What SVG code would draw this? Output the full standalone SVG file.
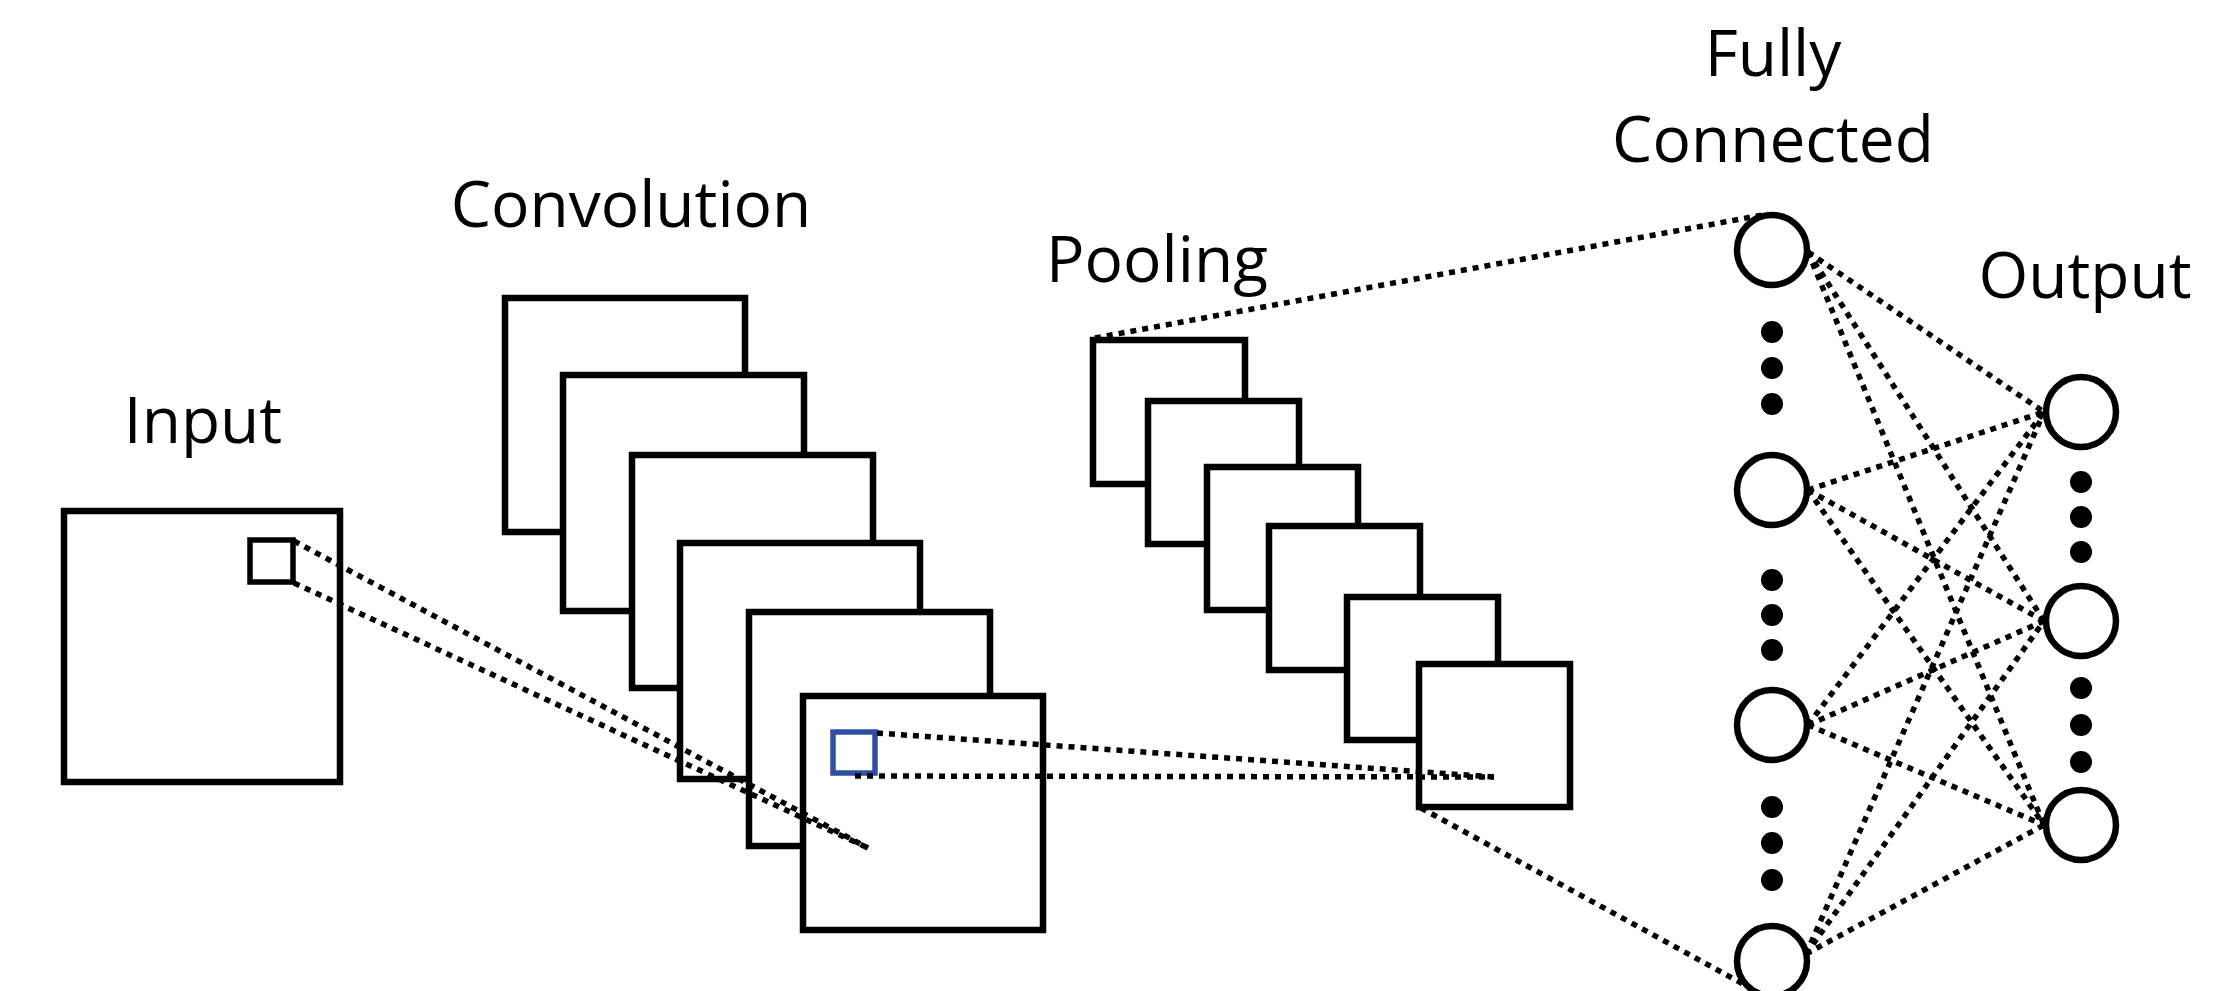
<svg xmlns="http://www.w3.org/2000/svg" width="2214" height="991" viewBox="0 0 2214 991">
<style>
.lbl{font-family:"Open Sans","Noto Sans","Liberation Sans",sans-serif;font-size:64px;font-weight:500;fill:#000;text-anchor:middle}
.box{fill:#fff;stroke:#000;stroke-width:6.5}
.sq{fill:none;stroke:#000;stroke-width:5.5}
.blue{fill:none;stroke:#2f4fa3;stroke-width:5.5}
.node{fill:#fff;stroke:#000;stroke-width:6.5}
.dot{fill:#000}
.dl{fill:none;stroke:#000;stroke-width:5.5;stroke-dasharray:6 6}
</style>
<rect width="2214" height="991" fill="#fff"/>

<g id="input">
<text class="lbl" x="203" y="443">Input</text>
<rect class="box" x="64" y="511" width="276" height="271"/>
<rect class="sq" x="250" y="540" width="43" height="42"/>
</g>

<g id="convolution">
<text class="lbl" x="631" y="227">Convolution</text>
<rect class="box" x="505" y="298" width="240" height="234"/>
<rect class="box" x="563" y="375" width="241" height="236"/>
<rect class="box" x="632" y="455" width="241" height="233"/>
<rect class="box" x="680" y="543" width="240" height="236"/>
<rect class="box" x="749" y="612" width="241" height="234"/>
<rect class="box" x="803" y="696" width="240" height="234"/>
<rect class="blue" x="833" y="732" width="42" height="41"/>
</g>

<g id="pooling">
<text class="lbl" x="1157" y="282">Pooling</text>
<rect class="box" x="1093" y="340" width="152" height="144"/>
<rect class="box" x="1148" y="401" width="151" height="143"/>
<rect class="box" x="1207" y="467" width="151" height="143"/>
<rect class="box" x="1269" y="526" width="151" height="144"/>
<rect class="box" x="1347" y="597" width="151" height="143"/>
<rect class="box" x="1419" y="664" width="151" height="143"/>
</g>

<g id="fully-connected">
<text class="lbl" x="1773" y="76">Fully</text>
<text class="lbl" x="1773" y="162">Connected</text>
<circle class="node" cx="1772" cy="250" r="35"/>
<circle class="node" cx="1772" cy="490" r="35"/>
<circle class="node" cx="1772" cy="725" r="35"/>
<circle class="node" cx="1772" cy="961" r="35"/>
<circle class="dot" cx="1772" cy="332" r="11"/>
<circle class="dot" cx="1772" cy="368" r="11"/>
<circle class="dot" cx="1772" cy="404" r="11"/>
<circle class="dot" cx="1772" cy="580" r="11"/>
<circle class="dot" cx="1772" cy="615" r="11"/>
<circle class="dot" cx="1772" cy="650" r="11"/>
<circle class="dot" cx="1772" cy="807" r="11"/>
<circle class="dot" cx="1772" cy="843" r="11"/>
<circle class="dot" cx="1772" cy="880" r="11"/>
</g>

<g id="output">
<text class="lbl" x="2085" y="298">Output</text>
<circle class="node" cx="2081" cy="412" r="35"/>
<circle class="node" cx="2081" cy="621" r="35"/>
<circle class="node" cx="2081" cy="825" r="35"/>
<circle class="dot" cx="2081" cy="482" r="11"/>
<circle class="dot" cx="2081" cy="517" r="11"/>
<circle class="dot" cx="2081" cy="552" r="11"/>
<circle class="dot" cx="2081" cy="688" r="11"/>
<circle class="dot" cx="2081" cy="725" r="11"/>
<circle class="dot" cx="2081" cy="762" r="11"/>
</g>

<g id="connectors">
<line class="dl" x1="294" y1="541" x2="868" y2="848"/>
<line class="dl" x1="294" y1="583" x2="868" y2="848"/>
<line class="dl" x1="877" y1="733" x2="1494" y2="777"/>
<line class="dl" x1="855" y1="776" x2="1494" y2="777"/>
<line class="dl" x1="1095" y1="338" x2="1768" y2="214"/>
<line class="dl" x1="1421" y1="808" x2="1745" y2="985"/>
<line class="dl" x1="1808" y1="252" x2="2044" y2="412"/>
<line class="dl" x1="1808" y1="252" x2="2044" y2="621"/>
<line class="dl" x1="1808" y1="252" x2="2044" y2="825"/>
<line class="dl" x1="1808" y1="490" x2="2044" y2="412"/>
<line class="dl" x1="1808" y1="490" x2="2044" y2="621"/>
<line class="dl" x1="1808" y1="490" x2="2044" y2="825"/>
<line class="dl" x1="1808" y1="725" x2="2044" y2="412"/>
<line class="dl" x1="1808" y1="725" x2="2044" y2="621"/>
<line class="dl" x1="1808" y1="725" x2="2044" y2="825"/>
<line class="dl" x1="1806" y1="954" x2="2044" y2="412"/>
<line class="dl" x1="1806" y1="954" x2="2044" y2="621"/>
<line class="dl" x1="1806" y1="954" x2="2044" y2="825"/>
</g>
</svg>
